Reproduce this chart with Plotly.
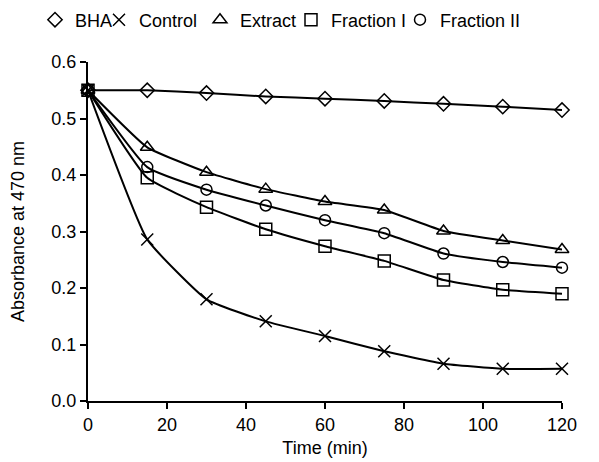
import plotly.graph_objects as go

time_min = [0, 15, 30, 45, 60, 75, 90, 105, 120]
bha = [0.550, 0.550, 0.545, 0.539, 0.535, 0.531, 0.526, 0.521, 0.515]
control = [0.550, 0.286, 0.180, 0.141, 0.115, 0.088, 0.066, 0.057, 0.057]
extract = [0.550, 0.449, 0.405, 0.375, 0.353, 0.338, 0.301, 0.284, 0.268]
fraction_1 = [0.550, 0.395, 0.343, 0.304, 0.274, 0.248, 0.214, 0.197, 0.190]
fraction_2 = [0.550, 0.414, 0.374, 0.346, 0.320, 0.297, 0.261, 0.246, 0.236]

series_names = ["BHA", "Control", "Extract", "Fraction I", "Fraction II"]
series_values = [bha, control, extract, fraction_1, fraction_2]
symbols = ["diamond-open", "x-thin-open", "triangle-up-open", "square-open", "circle-open"]
sizes = [11, 12, 12, 12, 11]
legend_ids = ["legend", "legend2", "legend3", "legend4", "legend5"]
legend_x = [35, 99, 200, 291, 400]  # pixel positions for legend entries

FONT = "Liberation Sans, Arial, sans-serif"
L, R, T, B = 88, 37, 62, 61
W, H = 599, 462
pw = W - L - R
ph = H - T - B

fig = go.Figure()
for name, vals, sym, sz, lg in zip(series_names, series_values, symbols, sizes, legend_ids):
    marker = dict(symbol=sym, size=sz, color="black", line=dict(color="black", width=1.5))
    fig.add_trace(go.Scatter(
        x=time_min, y=vals, mode="lines+markers", name=name,
        line=dict(color="black", width=2, shape="spline", smoothing=0.4),
        marker=marker, cliponaxis=False, showlegend=False, legendgroup=name,
    ))
    fig.add_trace(go.Scatter(
        x=[None], y=[None], mode="markers", name=name, marker=marker,
        showlegend=True, legend=lg, legendgroup=name,
    ))

layout_legends = {}
for lg, px in zip(legend_ids, legend_x):
    layout_legends[lg] = dict(
        x=(px - L) / pw, y=1 + (T - 20) / ph, xanchor="left", yanchor="middle",
        orientation="h", font=dict(size=18, family=FONT, color="black"),
        bgcolor="rgba(0,0,0,0)", borderwidth=0, itemwidth=30,
    )

fig.update_layout(
    width=W, height=H,
    margin=dict(l=L, r=R, t=T, b=B, autoexpand=False),
    paper_bgcolor="white", plot_bgcolor="white",
    font=dict(family=FONT, color="black"),
    **layout_legends,
)
fig.update_xaxes(
    range=[0, 120], tickvals=[0, 20, 40, 60, 80, 100, 120],
    showline=True, linecolor="black", linewidth=2, ticks="outside", ticklen=6,
    tickwidth=2, tickcolor="black", showgrid=False, zeroline=False,
    tickfont=dict(size=18, family=FONT),
    title=dict(text="Time (min)", font=dict(size=18, family=FONT), standoff=8),
)
fig.update_yaxes(
    range=[0, 0.6], tickvals=[0, 0.1, 0.2, 0.3, 0.4, 0.5, 0.6], tickformat=".1f",
    showline=True, linecolor="black", linewidth=2, ticks="outside", ticklen=6,
    tickwidth=2, tickcolor="black", showgrid=False, zeroline=False,
    tickfont=dict(size=18, family=FONT),
    title=dict(text="Absorbance at 470 nm", font=dict(size=18, family=FONT), standoff=22),
)

fig.write_html("out.html", config={"displayModeBar": False},
               post_script="document.body.style.margin='0';")
